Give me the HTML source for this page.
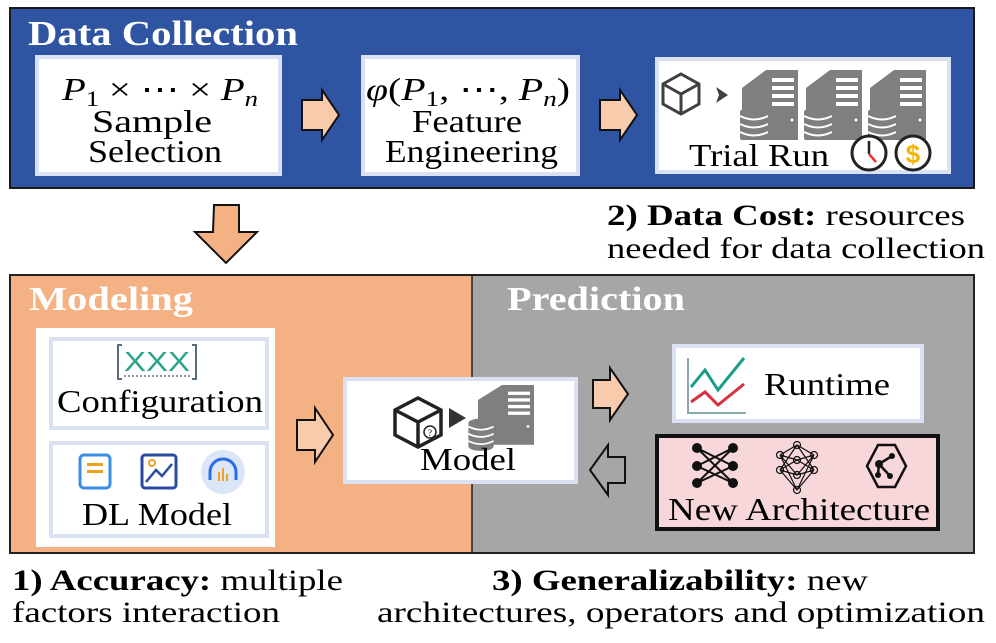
<!DOCTYPE html>
<html><head><meta charset="utf-8"><style>
html,body{margin:0;padding:0;background:#fff;}
svg{display:block;}
text{font-family:"Liberation Serif","Times New Roman",serif;}
</style></head><body>
<svg width="996" height="643" viewBox="0 0 996 643" xmlns="http://www.w3.org/2000/svg" font-family="Liberation Serif, Times New Roman, serif">
<defs>
<g id="srv">
<path d="M0 18 L24 0 L56 0 L56 72 L0 72 Z" fill="#7f7f7f"/>
<rect x="30" y="8" width="22" height="4" fill="#fff"/>
<rect x="30" y="16" width="22" height="4" fill="#fff"/>
<rect x="30" y="24" width="22" height="4" fill="#fff"/>
<rect x="30" y="32" width="22" height="4" fill="#fff"/>
<circle cx="50" cy="50" r="1.5" fill="#fff"/>
</g>
<g id="db">
<ellipse cx="0" cy="0" rx="14" ry="5" fill="#7f7f7f"/>
<rect x="-14" y="0" width="28" height="26" fill="#7f7f7f"/>
<ellipse cx="0" cy="26" rx="14" ry="5" fill="#7f7f7f"/>
<path d="M-14 4 Q0 11 14 4 M-14 12 Q0 19 14 12 M-14 20 Q0 27 14 20" stroke="#fff" stroke-width="2" fill="none"/>
</g>
</defs>

<!-- Data Collection -->
<rect x="10" y="8" width="964" height="180" fill="#2f54a1" stroke="#1a1a1a" stroke-width="2"/>
<text x="28" y="45" font-size="35" font-weight="bold" fill="#fff" textLength="270" lengthAdjust="spacingAndGlyphs">Data Collection</text>

<rect x="37" y="57" width="243" height="117" fill="#fff" stroke="#d9e1f2" stroke-width="4"/>
<text x="62" y="100" font-size="32" font-style="italic" textLength="196" lengthAdjust="spacingAndGlyphs">P<tspan font-size="22" font-style="normal" dy="6">1</tspan><tspan dy="-6" font-style="normal"> × ⋯ × </tspan>P<tspan font-size="22" dy="6">n</tspan></text>
<text x="92" y="132" font-size="32" textLength="120" lengthAdjust="spacingAndGlyphs">Sample</text>
<text x="88" y="162" font-size="32" textLength="134" lengthAdjust="spacingAndGlyphs">Selection</text>

<rect x="363" y="57" width="215" height="117" fill="#fff" stroke="#d9e1f2" stroke-width="4"/>
<text x="366" y="100" font-size="32" font-style="italic" textLength="204" lengthAdjust="spacingAndGlyphs">φ<tspan font-style="normal">(</tspan>P<tspan font-size="22" font-style="normal" dy="6">1</tspan><tspan dy="-6" font-style="normal">, ⋯, </tspan>P<tspan font-size="22" dy="6">n</tspan><tspan dy="-6" font-style="normal">)</tspan></text>
<text x="412" y="132" font-size="32" textLength="110" lengthAdjust="spacingAndGlyphs">Feature</text>
<text x="385" y="162" font-size="32" textLength="173" lengthAdjust="spacingAndGlyphs">Engineering</text>

<rect x="657" y="59" width="292" height="113" fill="#fff" stroke="#d9e1f2" stroke-width="4"/>
<path d="M681 74 L699 84 L699 104 L681 114 L663 104 L663 84 Z M663 84 L681 94 L699 84 M681 94 L681 114" fill="none" stroke="#404040" stroke-width="3"/>
<path d="M716 87 L728 95 L716 103 L719 95 Z" fill="#404040"/>
<use href="#srv" x="742" y="70"/>
<use href="#srv" x="806" y="70"/>
<use href="#srv" x="870" y="70"/>
<use href="#db" x="754" y="112"/>
<use href="#db" x="818" y="112"/>
<use href="#db" x="882" y="112"/>
<rect x="740" y="140" width="205" height="28" fill="#fff"/>
<text x="689" y="166" font-size="32" textLength="140" lengthAdjust="spacingAndGlyphs">Trial Run</text>
<circle cx="869" cy="153" r="17" fill="#fff" stroke="#222" stroke-width="3"/>
<path d="M869 141 L869 154" stroke="#222" stroke-width="2.5" fill="none"/>
<path d="M869 154 L876 162" stroke="#e33" stroke-width="2.5"/>
<circle cx="913" cy="153" r="17" fill="#fff" stroke="#222" stroke-width="3"/>
<text x="913" y="163" font-size="26" font-weight="bold" fill="#f5b400" text-anchor="middle" style="font-family:'Liberation Sans',sans-serif">$</text>

<!-- top arrows -->
<path d="M302 100 L322 100 L322 90 L339 115 L322 140 L322 130 L302 130 Z" fill="#f8cbad" stroke="#111" stroke-width="2"/>
<path d="M600 100 L620 100 L620 90 L637 115 L620 140 L620 130 L600 130 Z" fill="#f8cbad" stroke="#111" stroke-width="2"/>

<!-- down arrow -->
<path d="M214 205 L239 205 L239 232 L257 232 L226 263 L195 232 L213 232 Z" fill="#f4b183" stroke="#111" stroke-width="2"/>

<text x="607" y="225" font-size="30" textLength="358" lengthAdjust="spacingAndGlyphs"><tspan font-weight="bold">2) Data Cost:</tspan> resources</text>
<text x="607" y="258" font-size="30" textLength="378" lengthAdjust="spacingAndGlyphs">needed for data collection</text>

<!-- Modeling / Prediction -->
<rect x="10" y="275" width="462" height="278" fill="#f4b183"/>
<rect x="472" y="275" width="502" height="278" fill="#a6a6a6"/>
<rect x="10" y="275" width="964" height="278" fill="none" stroke="#222" stroke-width="2"/>
<line x1="472" y1="275" x2="472" y2="553" stroke="#222" stroke-width="1.5"/>
<text x="29" y="310" font-size="34" font-weight="bold" fill="#fff" textLength="164" lengthAdjust="spacingAndGlyphs">Modeling</text>
<text x="507" y="310" font-size="34" font-weight="bold" fill="#fff" textLength="178" lengthAdjust="spacingAndGlyphs">Prediction</text>

<rect x="36" y="328" width="239" height="219" fill="#fff"/>
<rect x="51" y="339" width="216" height="89" fill="#fff" stroke="#d9e1f2" stroke-width="4"/>
<path d="M122 345 L118 345 L118 379 L122 379 M192 345 L196 345 L196 379 L192 379" stroke="#5a6b7b" stroke-width="2" fill="none"/>
<text x="157" y="371" font-size="28" fill="#2aa58a" text-anchor="middle" textLength="66" lengthAdjust="spacingAndGlyphs" style="font-family:'Liberation Sans',sans-serif">XXX</text>
<path d="M124 376 L190 376" stroke="#8899aa" stroke-width="2" stroke-dasharray="2 2"/>
<text x="57" y="412" font-size="32" textLength="206" lengthAdjust="spacingAndGlyphs">Configuration</text>

<rect x="51" y="443" width="216" height="93" fill="#fff" stroke="#d9e1f2" stroke-width="4"/>
<rect x="80" y="455" width="30" height="33" rx="4" fill="none" stroke="#3a8ee6" stroke-width="3"/>
<rect x="87" y="463" width="16" height="3" fill="#f0a020"/><rect x="87" y="470" width="16" height="3" fill="#f0a020"/>
<rect x="142" y="455" width="34" height="33" rx="3" fill="none" stroke="#2a4ca0" stroke-width="3"/>
<path d="M146 482 L156 470 L162 476 L172 464" stroke="#2a4ca0" stroke-width="2.5" fill="none"/>
<circle cx="152" cy="463" r="3" fill="none" stroke="#f0a020" stroke-width="2"/>
<circle cx="223" cy="472" r="22" fill="#dbe6f8"/>
<path d="M210 480 L210 472 A13 13 0 0 1 236 472 L236 480" stroke="#2b6de8" stroke-width="3" fill="none"/>
<rect x="218" y="472" width="2" height="9" fill="#f0a020"/><rect x="222" y="468" width="2" height="13" fill="#f0a020"/><rect x="226" y="474" width="2" height="7" fill="#f0a020"/>
<text x="82" y="525" font-size="32" textLength="150" lengthAdjust="spacingAndGlyphs">DL Model</text>

<!-- middle arrow -->
<path d="M297 420 L315 420 L315 408 L333 435 L315 462 L315 450 L297 450 Z" fill="#f8cbad" stroke="#111" stroke-width="2"/>

<!-- Model box -->
<rect x="345" y="379" width="231" height="103" fill="#fff" stroke="#d9e1f2" stroke-width="4"/>
<path d="M418 398 L441 410 L441 435 L418 447 L395 435 L395 410 Z M395 410 L418 422 L441 410 M418 422 L418 447" fill="none" stroke="#222" stroke-width="3.5"/>
<circle cx="430" cy="432" r="6" fill="#fff" stroke="#222" stroke-width="1.5"/>
<text x="430" y="436" font-size="9" text-anchor="middle">?</text>
<path d="M449 408 L466 418 L449 428 Z" fill="#333"/>
<g transform="translate(478 385) scale(1 0.83)"><use href="#srv"/></g>
<g transform="translate(481 423) scale(0.9)"><use href="#db"/></g>
<rect x="420" y="448" width="100" height="4" fill="none"/>
<text x="420" y="470" font-size="32" textLength="96" lengthAdjust="spacingAndGlyphs">Model</text>

<!-- right side arrows -->
<path d="M593 380 L610 380 L610 368 L628 394 L610 420 L610 408 L593 408 Z" fill="#f8cbad" stroke="#111" stroke-width="2"/>
<path d="M625 457 L608 457 L608 445 L590 470 L608 495 L608 483 L625 483 Z" fill="#a6a6a6" stroke="#111" stroke-width="2"/>

<!-- Runtime -->
<rect x="674" y="346" width="248" height="75" fill="#fff" stroke="#d9e1f2" stroke-width="4"/>
<path d="M688 358 L688 413 L746 413" stroke="#8aa" stroke-width="2" fill="none"/>
<path d="M691 387 L705 370 L718 390 L744 358" stroke="#1a9e8a" stroke-width="3" fill="none"/>
<path d="M691 402 L705 392 L718 405 L744 384" stroke="#d9303e" stroke-width="3" fill="none"/>
<text x="764" y="395" font-size="32" textLength="126" lengthAdjust="spacingAndGlyphs">Runtime</text>

<!-- New Architecture -->
<rect x="657" y="436" width="281" height="93" fill="#f8d7da" stroke="#111" stroke-width="4"/>
<g stroke="#111" stroke-width="2">
<path d="M697 448 L733 466 M697 448 L733 483 M697 466 L733 448 M697 466 L733 483 M697 483 L733 448 M697 483 L733 466"/>
</g>
<g fill="#111"><circle cx="697" cy="448" r="5"/><circle cx="697" cy="466" r="5"/><circle cx="697" cy="483" r="5"/><circle cx="733" cy="448" r="5"/><circle cx="733" cy="466" r="5"/><circle cx="733" cy="483" r="5"/></g>
<g stroke="#111" stroke-width="1.2" fill="none">
<path d="M780 455 L797 445 L814 455 M780 470 L797 460 L814 470 M780 455 L797 475 L814 455 M780 470 L797 490 L814 470 M780 455 L797 460 L814 455 M780 470 L797 475 L814 470 M780 455 L797 490 M814 455 L797 490 M780 470 L797 445 M814 470 L797 445"/>
<circle cx="780" cy="455" r="3.5"/><circle cx="780" cy="470" r="3.5"/><circle cx="797" cy="445" r="3.5"/><circle cx="797" cy="460" r="3.5"/><circle cx="797" cy="475" r="3.5"/><circle cx="797" cy="490" r="3.5"/><circle cx="814" cy="455" r="3.5"/><circle cx="814" cy="470" r="3.5"/>
</g>
<path d="M878 445 L895 445 L906 466 L895 487 L878 487 L867 466 Z" fill="none" stroke="#111" stroke-width="2.5"/>
<path d="M879 464 L892 456 M879 464 L890 476 M879 464 L878 474" stroke="#111" stroke-width="2.5"/>
<circle cx="879" cy="464" r="4" fill="#111"/><circle cx="892" cy="456" r="3" fill="#111"/><circle cx="890" cy="476" r="3" fill="#111"/><circle cx="878" cy="475" r="3" fill="#111"/>
<text x="668" y="520" font-size="32" textLength="262" lengthAdjust="spacingAndGlyphs">New Architecture</text>

<!-- bottom text -->
<text x="12" y="590" font-size="30" textLength="331" lengthAdjust="spacingAndGlyphs"><tspan font-weight="bold">1) Accuracy:</tspan> multiple</text>
<text x="12" y="622" font-size="30" textLength="268" lengthAdjust="spacingAndGlyphs">factors interaction</text>
<text x="492" y="590" font-size="30" textLength="376" lengthAdjust="spacingAndGlyphs"><tspan font-weight="bold">3) Generalizability:</tspan> new</text>
<text x="377" y="622" font-size="30" textLength="608" lengthAdjust="spacingAndGlyphs">architectures, operators and optimization</text>
</svg>
</body></html>
